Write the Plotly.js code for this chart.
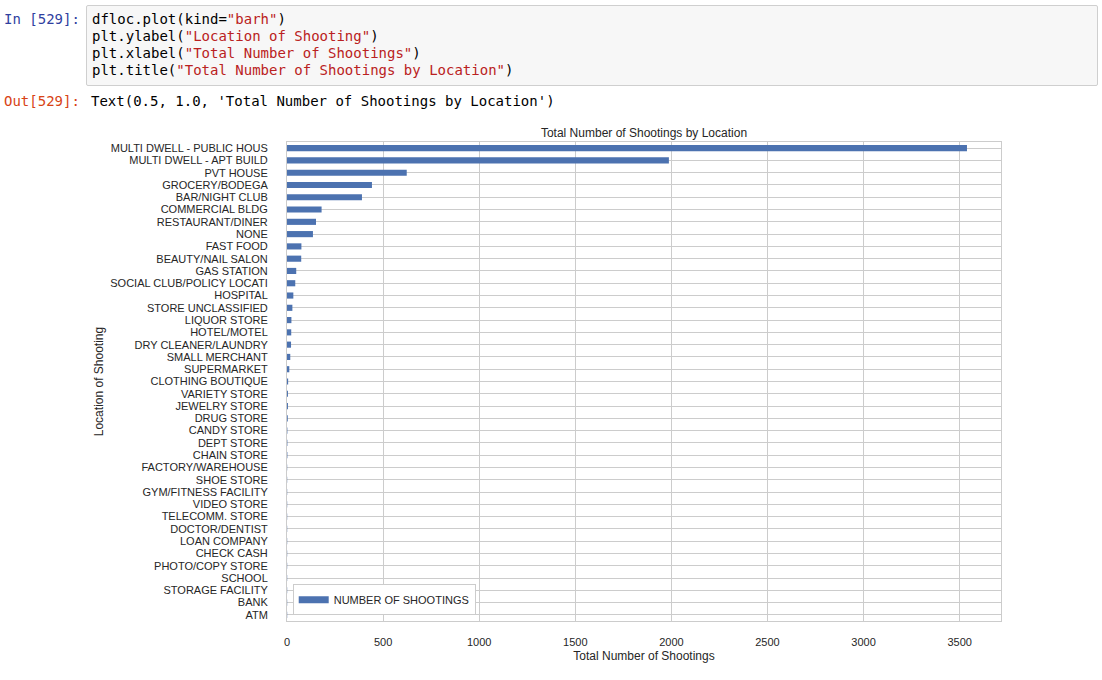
<!DOCTYPE html>
<html>
<head>
<meta charset="utf-8">
<script src="https://cdn.plot.ly/plotly-3.0.1.min.js"></script>
<style>
  html, body { margin:0; padding:0; background:#fff; width:1102px; height:680px; overflow:hidden; }
  #chart { position:absolute; left:0; top:0; width:1102px; height:680px; z-index:1; }
  .nb { position:absolute; z-index:2; font-family:"DejaVu Sans Mono", monospace; font-size:14px; line-height:16px; white-space:pre; }
  .prompt-in { left:4px; top:11px; color:#303F9F; }
  .prompt-out { left:4px; top:93px; color:#D84315; }
  .codebox { left:86px; top:5px; width:1010px; height:79px; background:#f7f7f7; border:1px solid #cfcfcf; border-radius:2px; }
  .l1 { left:92px; top:11px; }
  .l2 { left:92px; top:28px; }
  .l3 { left:92px; top:45px; }
  .l4 { left:92px; top:62px; }
  .out { left:91px; top:93px; color:#000; }
  .p { color:#000; }
  .s { color:#BA2121; }
</style>
</head>
<body>
<div class="nb prompt-in"><span>In [529]:</span></div>
<div class="nb codebox"></div>
<div class="nb l1"><span class="p">dfloc.plot(kind=</span><span class="s">"barh"</span><span class="p">)</span></div>
<div class="nb l2"><span class="p">plt.ylabel(</span><span class="s">"Location of Shooting"</span><span class="p">)</span></div>
<div class="nb l3"><span class="p">plt.xlabel(</span><span class="s">"Total Number of Shootings"</span><span class="p">)</span></div>
<div class="nb l4"><span class="p">plt.title(</span><span class="s">"Total Number of Shootings by Location"</span><span class="p">)</span></div>
<div class="nb prompt-out"><span>Out[529]:</span></div>
<div class="nb out"><span>Text(0.5, 1.0, 'Total Number of Shootings by Location')</span></div>
<div id="chart"></div>
<script>
const locations = [
  "MULTI DWELL - PUBLIC HOUS", "MULTI DWELL - APT BUILD", "PVT HOUSE", "GROCERY/BODEGA",
  "BAR/NIGHT CLUB", "COMMERCIAL BLDG", "RESTAURANT/DINER", "NONE", "FAST FOOD",
  "BEAUTY/NAIL SALON", "GAS STATION", "SOCIAL CLUB/POLICY LOCATI", "HOSPITAL",
  "STORE UNCLASSIFIED", "LIQUOR STORE", "HOTEL/MOTEL", "DRY CLEANER/LAUNDRY",
  "SMALL MERCHANT", "SUPERMARKET", "CLOTHING BOUTIQUE", "VARIETY STORE", "JEWELRY STORE",
  "DRUG STORE", "CANDY STORE", "DEPT STORE", "CHAIN STORE", "FACTORY/WAREHOUSE",
  "SHOE STORE", "GYM/FITNESS FACILITY", "VIDEO STORE", "TELECOMM. STORE", "DOCTOR/DENTIST",
  "LOAN COMPANY", "CHECK CASH", "PHOTO/COPY STORE", "SCHOOL", "STORAGE FACILITY", "BANK", "ATM"
];
const shootings = [
  3538, 1987, 623, 442,
  390, 180, 151, 135, 75,
  74, 48, 43, 33,
  28, 23, 22, 21,
  17, 12, 6, 5, 5,
  4, 2, 2, 2, 1,
  1, 1, 1, 1, 1,
  1, 1, 1, 1, 1, 1, 1
];
const xTicks = [0, 500, 1000, 1500, 2000, 2500, 3000, 3500];
const seriesName = "NUMBER OF SHOOTINGS";

const textColor = "#262626";
const gridColor = "#cccccc";
const barColor = "#4C72B0";
const font = "Liberation Sans, Arial, sans-serif";

const barTrace = {
  type: "bar",
  orientation: "h",
  x: shootings,
  y: locations,
  name: seriesName,
  width: 0.5,
  marker: { color: barColor, line: { width: 0 } },
  showlegend: false
};
// legend proxy: wide flat swatch like matplotlib's patch
const legendTrace = {
  type: "scatter", mode: "lines",
  x: [null], y: [null],
  name: seriesName,
  line: { color: barColor, width: 7 },
  showlegend: true, hoverinfo: "skip"
};

const layout = {
  width: 1102, height: 680,
  paper_bgcolor: "rgba(0,0,0,0)",
  plot_bgcolor: "#ffffff",
  margin: { l: 287, r: 101, t: 142, b: 59, pad: 0 },
  font: { family: font, size: 11, color: textColor },
  title: {
    text: "Total Number of Shootings by Location",
    font: { family: font, size: 12, color: textColor },
    x: 0.5, xref: "paper", xanchor: "center",
    y: 1 - 133 / 680, yref: "container", yanchor: "middle"
  },
  xaxis: {
    range: [0, 3715],
    tickmode: "array",
    tickvals: xTicks,
    ticktext: xTicks.map(String),
    ticks: "outside", ticklen: 11, tickcolor: "rgba(0,0,0,0)",
    showgrid: true, gridcolor: gridColor, gridwidth: 1,
    zeroline: false,
    showline: true, linecolor: gridColor, linewidth: 1, mirror: true,
    tickfont: { family: font, size: 11, color: textColor },
    title: { text: "Total Number of Shootings", font: { family: font, size: 12, color: textColor }, standoff: 4 },
    fixedrange: true
  },
  yaxis: {
    type: "category",
    range: [38.5, -0.5],
    tickmode: "array",
    tickvals: locations,
    ticktext: locations,
    ticks: "outside", ticklen: 16, tickcolor: "rgba(0,0,0,0)",
    showgrid: true, gridcolor: gridColor, gridwidth: 1,
    zeroline: false,
    showline: true, linecolor: gridColor, linewidth: 1, mirror: true,
    automargin: true,
    tickfont: { family: font, size: 11, color: textColor },
    title: { text: "Location of Shooting", font: { family: font, size: 12, color: textColor }, standoff: 4 },
    fixedrange: true
  },
  legend: {
    x: 0.008, y: 0.012, xanchor: "left", yanchor: "bottom",
    bgcolor: "#ffffff", bordercolor: gridColor, borderwidth: 1,
    font: { family: font, size: 11, color: textColor },
    itemwidth: 30
  },
  bargap: 0.5
};

Plotly.newPlot("chart", [barTrace, legendTrace], layout, { staticPlot: true, displayModeBar: false });
</script>
</body>
</html>
